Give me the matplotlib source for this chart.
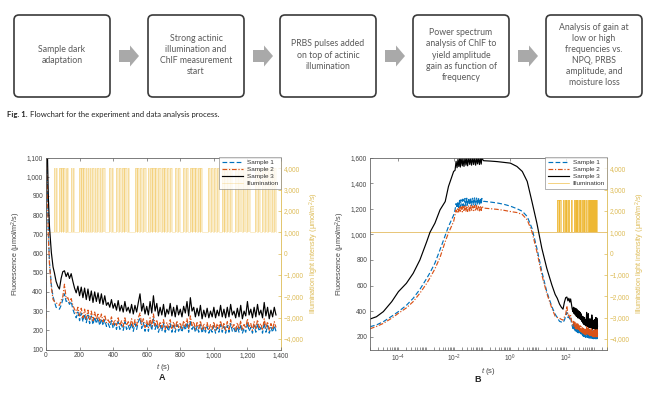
import numpy as np
import matplotlib
matplotlib.use("Agg")
import matplotlib.pyplot as plt
from matplotlib.patches import FancyBboxPatch, Polygon
from matplotlib.ticker import FuncFormatter, LogLocator, NullFormatter, MultipleLocator

plt.rcParams['font.family'] = ['Liberation Sans', 'DejaVu Sans']
plt.rcParams['mathtext.fontset'] = 'custom'
plt.rcParams['mathtext.rm'] = 'Liberation Sans'
plt.rcParams['mathtext.it'] = 'Liberation Sans:italic'

# ---- flowchart text ----
steps = ["Sample dark\nadaptation",
         "Strong actinic\nillumination and\nChlF measurement\nstart",
         "PRBS pulses added\non top of actinic\nillumination",
         "Power spectrum\nanalysis of ChlF to\nyield amplitude\ngain as function of\nfrequency",
         "Analysis of gain at\nlow or high\nfrequencies vs.\nNPQ, PRBS\namplitude, and\nmoisture loss"]
caption_bold = "Fig. 1."
caption_text = "Flowchart for the experiment and data analysis process."

# ---- fluorescence data (umol/m2/s) ----
# early part, log spaced times
t_early = [1e-5, 1.7e-5, 3e-5, 6e-5, 1.04e-4, 2e-4, 3.5e-4, 6.1e-4, 1.07e-3, 1.4e-3,
           2.1e-3, 3.2e-3, 4.9e-3, 6.4e-3, 9.8e-3,
           0.011, 0.012, 0.013, 0.014, 0.015, 0.016, 0.017, 0.018, 0.02, 0.021,
           0.023, 0.025, 0.027, 0.029, 0.031, 0.034, 0.037, 0.04, 0.043, 0.047,
           0.051, 0.055, 0.06, 0.065, 0.07, 0.076, 0.082, 0.089, 0.095, 0.1,
           0.115, 0.2, 0.35, 0.6, 1.05, 1.8, 2.8, 4.2, 6.2, 9.3, 14, 21, 32, 42]
s1_early = [278, 292, 317, 360, 396, 445, 500, 570, 656, 700, 775, 880, 990, 1060, 1150,
            1190, 1240, 1205, 1255, 1210, 1265, 1215, 1270, 1220, 1275, 1218, 1280, 1225, 1282, 1222,
            1285, 1228, 1285, 1225, 1282, 1230, 1285, 1228, 1283, 1232, 1285, 1230, 1282, 1235, 1280,
            1258, 1252, 1245, 1235, 1220, 1200, 1180, 1139, 1047, 891, 709, 552, 435, 375]
s2_early = [262, 280, 304, 345, 383, 425, 474, 540, 617, 660, 730, 820, 943, 1010, 1100,
            1150, 1190, 1165, 1200, 1170, 1210, 1172, 1215, 1175, 1218, 1178, 1220, 1180, 1222, 1178,
            1225, 1182, 1225, 1180, 1222, 1185, 1225, 1182, 1224, 1185, 1225, 1183, 1222, 1186, 1220,
            1205, 1200, 1195, 1188, 1178, 1170, 1155, 1113, 1021, 865, 683, 539, 422, 360]
s3_early = [338, 356, 396, 474, 552, 617, 695, 800, 943, 1016, 1087, 1191, 1256, 1373, 1491,
            1500, 1570, 1520, 1585, 1530, 1590, 1525, 1595, 1535, 1598, 1530, 1600, 1540, 1598, 1535,
            1600, 1545, 1600, 1540, 1598, 1545, 1600, 1540, 1600, 1550, 1598, 1545, 1600, 1548, 1595,
            1575, 1572, 1568, 1562, 1556, 1530, 1491, 1413, 1256, 1087, 891, 735, 604, 530]

# later part, every 10 s from 50 s to 1370 s
t_late = np.arange(50, 1371, 10)
s1_late = [350, 320, 315, 310, 330, 360, 390, 350, 355, 335, 350, 310, 285, 265, 295, 250, 290, 245, 285, 240,
           280, 235, 275, 230, 270, 235, 265, 225, 260, 225, 255, 220, 235, 215, 250, 210, 235, 205, 245, 205,
           230, 200, 245, 205, 225, 200, 240, 195, 235, 205, 245, 265, 210, 240, 195, 230, 195, 245, 200, 260,
           205, 235, 190, 225, 195, 235, 190, 220, 195, 235, 190, 225, 190, 230, 195, 220, 190, 230, 200, 240,
           190, 250, 205, 225, 190, 220, 190, 230, 185, 215, 190, 220, 185, 210, 190, 225, 185, 215, 190, 230,
           190, 220, 185, 225, 190, 235, 195, 210, 185, 220, 190, 230, 185, 210, 190, 240, 195, 215, 185, 225,
           190, 235, 195, 215, 185, 240, 190, 225, 185, 215, 190, 225, 195]
s2_late = [350, 345, 335, 330, 355, 375, 440, 365, 370, 345, 365, 330, 310, 290, 320, 275, 315, 265, 310, 260,
           305, 255, 300, 250, 295, 255, 290, 245, 285, 245, 280, 240, 255, 235, 270, 230, 255, 225, 265, 225,
           250, 220, 265, 225, 245, 220, 260, 215, 255, 225, 265, 290, 230, 260, 215, 250, 215, 265, 220, 285,
           225, 255, 210, 245, 215, 255, 205, 240, 215, 255, 210, 245, 205, 250, 215, 240, 205, 250, 220, 260,
           210, 275, 225, 245, 205, 240, 210, 250, 200, 235, 205, 240, 200, 230, 205, 245, 200, 235, 210, 250,
           205, 240, 200, 245, 205, 255, 215, 230, 200, 240, 205, 250, 200, 230, 210, 260, 215, 235, 200, 245,
           205, 255, 215, 235, 200, 260, 210, 245, 200, 235, 205, 245, 215]
s3_late = [500, 455, 430, 415, 470, 505, 510, 480, 500, 470, 495, 455, 420, 395, 430, 380, 425, 370, 420, 360,
           415, 355, 405, 345, 400, 350, 395, 340, 390, 335, 380, 330, 345, 320, 360, 315, 340, 305, 355, 300,
           330, 295, 350, 300, 320, 290, 335, 285, 330, 295, 345, 390, 300, 340, 285, 325, 280, 350, 290, 380,
           300, 340, 275, 320, 280, 335, 270, 310, 285, 340, 275, 320, 270, 330, 280, 310, 270, 325, 290, 350,
           275, 370, 300, 320, 270, 315, 275, 330, 260, 305, 270, 315, 265, 300, 270, 320, 265, 305, 275, 330,
           270, 310, 265, 320, 270, 335, 280, 300, 265, 315, 270, 330, 260, 300, 275, 350, 280, 310, 265, 320,
           270, 335, 280, 305, 265, 345, 275, 320, 260, 305, 270, 320, 280]

# ---- PRBS illumination (umol/m2/s): on/off switching times in s ----
illum_on = [50, 59, 80, 92, 104, 118, 126, 149, 160, 199, 210, 222, 236, 248, 264, 274, 290, 305, 322, 335,
            378, 392, 417, 432, 453, 466, 486, 532, 544, 560, 578, 606, 618, 634, 652, 668, 690, 705, 720, 740,
            768, 784, 818, 834, 856, 872, 889, 905, 920, 967, 982, 1000, 1016, 1046, 1062, 1080, 1096, 1126,
            1146, 1176, 1196, 1245, 1260, 1285, 1302, 1320, 1344, 1358]
illum_off = [56, 66, 88, 100, 113, 122, 131, 156, 167, 206, 218, 232, 244, 258, 270, 286, 300, 318, 330, 352,
             388, 397, 426, 446, 462, 480, 497, 540, 556, 572, 596, 614, 630, 648, 662, 685, 700, 715, 735, 748,
             780, 798, 830, 848, 868, 885, 900, 916, 927, 978, 995, 1010, 1032, 1058, 1075, 1092, 1106, 1140,
             1166, 1190, 1215, 1256, 1275, 1298, 1316, 1340, 1354, 1370]
illum_low = 1000
illum_high_a = 4000
illum_high_b = 2500

BLUE = '#0072BD'
ORANGE = '#D95319'
YELLOW = '#EDB120'
YTEXT = '#DDBB55'
GRAY = '#444444'


def comma(v, pos):
    return f"{v:,.0f}".replace('-', '\u2212')


def step_xy(t0, t1, high):
    xs = [t0]
    ys = [illum_low]
    for s, e in zip(illum_on, illum_off):
        xs += [s, s, e, e]
        ys += [illum_low, high, high, illum_low]
    xs.append(t1)
    ys.append(illum_low)
    return np.array(xs), np.array(ys)


def draw_flowchart(fig):
    ax = fig.add_axes([0, 0, 1, 1])
    ax.set_xlim(0, 650)
    ax.set_ylim(397, 0)
    ax.axis('off')
    lefts = [14, 148, 280, 413, 546]
    w, top, bot = 96, 15, 97
    for i, (x0, txt) in enumerate(zip(lefts, steps)):
        box = FancyBboxPatch((x0 + 5, top + 5), w - 10, bot - top - 10,
                             boxstyle="round,pad=5", fc='white', ec='#3a3a3a', lw=1.2)
        ax.add_patch(box)
        ax.text(x0 + w / 2, (top + bot) / 2 - 1, txt, ha='center', va='center',
                family=['Lato', 'DejaVu Sans'], fontsize=6.3, color='#5a5a5a', linespacing=1.3)
        if i < 4:
            a0 = x0 + w + 9
            a1 = a0 + 20
            yc = 56
            pts = [(a0, yc - 6), (a0 + 11, yc - 6), (a0 + 11, yc - 10.5), (a1, yc),
                   (a0 + 11, yc + 10.5), (a0 + 11, yc + 6), (a0, yc + 6)]
            ax.add_patch(Polygon(pts, closed=True, fc='#a9a9a9', ec='none'))
    t1 = ax.text(7, 115, caption_bold + " ", fontsize=5.6, fontweight='bold',
                 family=['Lato', 'DejaVu Sans'], color='#222222', va='center')
    fig.canvas.draw()
    bb = t1.get_window_extent()
    ax.text(7 + bb.width, 115, caption_text, fontsize=5.6,
            family=['Lato', 'DejaVu Sans'], color='#222222', va='center')


def style_axes(ax, ax2):
    for s in ['left', 'top', 'bottom']:
        ax.spines[s].set_color('#666666')
        ax.spines[s].set_linewidth(0.6)
    ax.spines['right'].set_visible(False)
    ax2.spines['right'].set_color(YTEXT)
    ax2.spines['right'].set_linewidth(0.6)
    for s in ['left', 'top', 'bottom']:
        ax2.spines[s].set_visible(False)
    ax.tick_params(axis='both', which='both', direction='in', labelsize=4.7,
                   labelcolor=GRAY, color='#666666', width=0.5, length=2.5, pad=2)
    ax.tick_params(axis='x', top=True)
    ax.tick_params(axis='y', right=False)
    ax2.tick_params(axis='y', direction='in', labelsize=4.7, labelcolor=YTEXT,
                    color=YTEXT, width=0.5, length=2.5, pad=2)
    ax2.set_ylim(-4500, 4500)
    ax2.yaxis.set_major_locator(MultipleLocator(1000))
    ax2.yaxis.set_major_formatter(FuncFormatter(comma))
    ax2.set_ylabel("Illumination light intensity (\u03bcmol/m$^2$/s)", fontsize=5.2,
                   color=YTEXT, labelpad=3)
    ax.set_ylabel("Fluorescence (\u03bcmol/m$^2$/s)", fontsize=5.2, color=GRAY, labelpad=3)
    ax.yaxis.set_major_formatter(FuncFormatter(comma))
    ax.set_zorder(ax2.get_zorder() + 1)
    ax.patch.set_visible(False)


def draw_panel(fig, rect, logx):
    ax = fig.add_axes(rect)
    ax2 = ax.twinx()
    t = np.concatenate([t_early, t_late])
    s1 = np.concatenate([s1_early, s1_late])
    s2 = np.concatenate([s2_early, s2_late])
    s3 = np.concatenate([s3_early, s3_late])

    if logx:
        xs, ys = step_xy(1e-5, 1370, illum_high_b)
        ax2.fill_between(xs, illum_low, ys, color=YELLOW, alpha=0.55, lw=0)
        hl, = ax2.plot(xs, ys, color=YELLOW, lw=0.5, alpha=0.8)
        ax2.axhline(illum_low, color='#E8C67A', lw=0.7)
    else:
        xs, ys = step_xy(0, 1370, illum_high_a)
        ax2.fill_between(xs, illum_low, ys, color=YELLOW, alpha=0.28, lw=0)
        hl, = ax2.plot(xs, ys, color=YELLOW, lw=0.4, alpha=0.4)

    h1, = ax.plot(t, s1, color=BLUE, lw=0.85, ls=(0, (4, 2)))
    h2, = ax.plot(t, s2, color=ORANGE, lw=0.85, ls=(0, (4, 1.5, 1, 1.5)))
    h3, = ax.plot(t, s3, color='k', lw=0.85)

    if logx:
        ax.set_xscale('log')
        ax.set_xlim(1e-5, 3e3)
        ax.set_ylim(100, 1600)
        ax.set_xticks([1e-4, 1e-2, 1e0, 1e2])
        ax.xaxis.set_minor_locator(LogLocator(base=10, subs=np.arange(1, 10), numticks=100))
        ax.xaxis.set_minor_formatter(NullFormatter())
        ax.yaxis.set_major_locator(MultipleLocator(200))
        ax.tick_params(axis='x', which='minor', length=1.5)
    else:
        ax.set_xlim(0, 1400)
        ax.set_ylim(100, 1100)
        ax.xaxis.set_major_locator(MultipleLocator(200))
        ax.xaxis.set_major_formatter(FuncFormatter(comma))
        ax.yaxis.set_major_locator(MultipleLocator(100))
    ax.set_xlabel("$t$ (s)", fontsize=5.6, color=GRAY, labelpad=2)
    style_axes(ax, ax2)

    leg = ax.legend([h1, h2, h3, hl], ["Sample 1", "Sample 2", "Sample 3", "Illumination"],
                    loc='upper right', borderaxespad=0, fontsize=4.6, frameon=True,
                    fancybox=False, handlelength=3.4, handletextpad=0.5, labelspacing=0.25,
                    borderpad=0.35, labelcolor='#333333')
    leg.get_frame().set_edgecolor('#777777')
    leg.get_frame().set_linewidth(0.5)
    return ax


fig = plt.figure(figsize=(6.5, 3.97), dpi=100)
draw_flowchart(fig)

bottom = 1 - 349.5 / 397
height = 192 / 397
draw_panel(fig, [46 / 650, bottom, 235 / 650, height], False)
draw_panel(fig, [370 / 650, bottom, 237 / 650, height], True)

fig.text(162 / 650, 1 - 378 / 397, "A", ha='center', va='center', fontsize=6.5,
         fontweight='bold', color='#222222')
fig.text(478 / 650, 1 - 380 / 397, "B", ha='center', va='center', fontsize=6.5,
         fontweight='bold', color='#222222')

fig.savefig("out.png", dpi=100)
